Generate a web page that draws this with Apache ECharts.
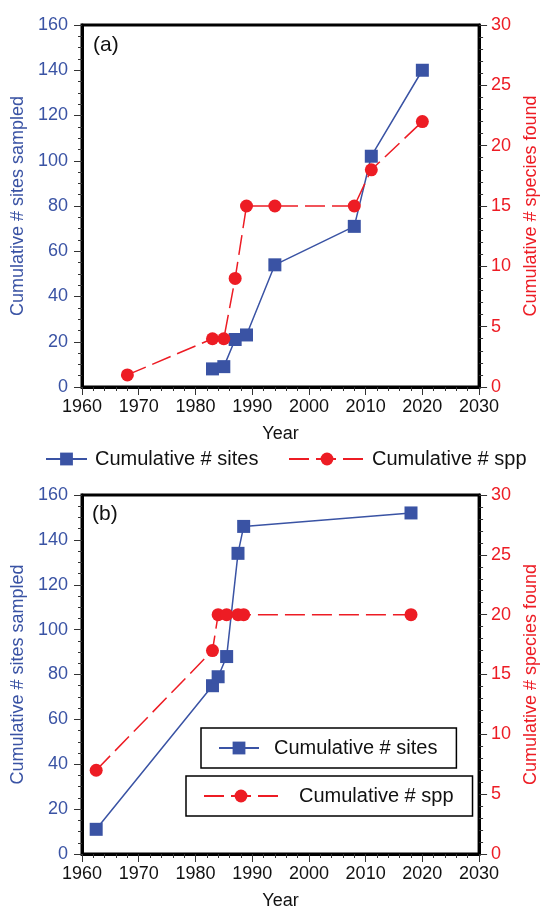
<!DOCTYPE html>
<html>
<head>
<meta charset="utf-8">
<script src="https://cdn.jsdelivr.net/npm/echarts@6/dist/echarts.min.js"></script>
<style>
html,body{margin:0;padding:0;background:#fff;}
#chart{width:548px;height:911px;}
</style>
</head>
<body>
<div id="chart"></div>
<script>
// Panel (a)
var sitesA = [[1983, 8], [1985, 9], [1987, 21], [1989, 23], [1994, 54], [2008, 71], [2011, 102], [2020, 140]];
var sppA = [[1968, 1], [1983, 4], [1985, 4], [1987, 9], [1989, 15], [1994, 15], [2008, 15], [2011, 18], [2020, 22]];
// Panel (b)
var sitesB = [[1962.5, 11], [1983, 75], [1984, 79], [1985.5, 88], [1987.5, 134], [1988.5, 146], [2018, 152]];
var sppB = [[1962.5, 7], [1983, 17], [1984, 20], [1985.5, 20], [1987.5, 20], [1988.5, 20], [2018, 20]];

var seriesNames = ['Cumulative # sites', 'Cumulative # spp'];
var panelLabels = ['(a)', '(b)'];
var xName = 'Year';
var leftName = 'Cumulative # sites sampled';
var rightName = 'Cumulative # species found';

var BLUE = '#3a53a4';
var RED = '#ed1c24';
var FONT = 'Liberation Sans';
var plain = function (v) { return String(v); };

function xAxisDef(gi) {
  return {
    type: 'value', gridIndex: gi, min: 1960, max: 2030, interval: 10,
    name: xName, nameLocation: 'middle', nameGap: 38,
    nameTextStyle: {color: '#111', fontSize: 18, fontFamily: FONT},
    axisLine: {show: true, onZero: false, lineStyle: {color: '#000', width: 3}},
    axisTick: {show: true, inside: false, length: 8, lineStyle: {color: '#333', width: 1}},
    minorTick: {show: true, splitNumber: 5, length: 4, lineStyle: {color: '#333', width: 1}},
    axisLabel: {color: '#111', fontSize: 18, fontFamily: FONT, margin: 11, formatter: plain},
    splitLine: {show: false}
  };
}
function leftAxisDef(gi) {
  return {
    type: 'value', gridIndex: gi, position: 'left', min: 0, max: 160, interval: 20,
    name: leftName, nameLocation: 'middle', nameGap: 53,
    nameTextStyle: {color: BLUE, fontSize: 18, fontFamily: FONT},
    axisLine: {show: true, onZero: false, lineStyle: {color: '#000', width: 3}},
    axisTick: {show: true, inside: false, length: 8, lineStyle: {color: '#333', width: 1}},
    minorTick: {show: true, splitNumber: 4, length: 4, lineStyle: {color: '#333', width: 1}},
    axisLabel: {color: BLUE, fontSize: 18, fontFamily: FONT, margin: 14, formatter: plain},
    splitLine: {show: false}
  };
}
function rightAxisDef(gi) {
  return {
    type: 'value', gridIndex: gi, position: 'right', min: 0, max: 30, interval: 5,
    name: rightName, nameLocation: 'middle', nameGap: 40, nameRotate: 90,
    nameTextStyle: {color: RED, fontSize: 18, fontFamily: FONT},
    axisLine: {show: true, onZero: false, lineStyle: {color: '#000', width: 3}},
    axisTick: {show: true, inside: false, length: 8, lineStyle: {color: '#333', width: 1}},
    minorTick: {show: true, splitNumber: 5, length: 4, lineStyle: {color: '#333', width: 1}},
    axisLabel: {color: RED, fontSize: 18, fontFamily: FONT, margin: 12, formatter: plain},
    splitLine: {show: false}
  };
}
function sitesSeries(xi, yi, data) {
  return {
    name: seriesNames[0], type: 'line', xAxisIndex: xi, yAxisIndex: yi, data: data,
    symbol: 'rect', symbolSize: 13, showSymbol: true,
    lineStyle: {color: BLUE, width: 1.5}, itemStyle: {color: BLUE},
    z: 2, animation: false
  };
}
function sppSeries(xi, yi, data) {
  return {
    name: seriesNames[1], type: 'line', xAxisIndex: xi, yAxisIndex: yi, data: data,
    symbol: 'circle', symbolSize: 13, showSymbol: true,
    lineStyle: {color: RED, width: 1.5, type: [20, 7]}, itemStyle: {color: RED},
    z: 3, animation: false
  };
}
var legendText = {fontSize: 20, fontFamily: FONT, color: '#111'};

var chart = echarts.init(document.getElementById('chart'), null, {renderer: 'canvas'});
chart.setOption({
  backgroundColor: '#fff',
  animation: false,
  grid: [
    {left: 82, top: 25, width: 408, height: 362, show: true, borderColor: '#000', borderWidth: 3, backgroundColor: 'transparent'},
    {left: 82, top: 495, width: 408, height: 362, show: true, borderColor: '#000', borderWidth: 3, backgroundColor: 'transparent'}
  ],
  xAxis: [xAxisDef(0), xAxisDef(1)],
  yAxis: [leftAxisDef(0), rightAxisDef(0), leftAxisDef(1), rightAxisDef(1)],
  legend: [
    {data: [seriesNames[0]], left: 45, top: 449, padding: 0, itemWidth: 41, itemHeight: 16,
     textStyle: Object.assign({padding: [0, 0, 0, 3]}, legendText)},
    {data: [seriesNames[1]], left: 288, top: 449, padding: 0, itemWidth: 76, itemHeight: 16,
     textStyle: Object.assign({padding: [0, 0, 0, 2]}, legendText)},
    {data: [seriesNames[0]], left: 201, top: 728, itemWidth: 40, itemHeight: 16,
     padding: [10, 19, 10, 17], borderColor: '#000', borderWidth: 1.5,
     textStyle: Object.assign({padding: [0, 0, 0, 10]}, legendText)},
    {data: [seriesNames[1]], left: 186, top: 776, itemWidth: 74, itemHeight: 16,
     padding: [10, 19, 10, 17], borderColor: '#000', borderWidth: 1.5,
     textStyle: Object.assign({padding: [0, 0, 0, 16]}, legendText)}
  ],
  series: [
    sitesSeries(0, 0, sitesA), sppSeries(0, 1, sppA),
    sitesSeries(1, 2, sitesB), sppSeries(1, 3, sppB)
  ],
  graphic: [
    {type: 'text', left: 93, top: 35, style: {text: panelLabels[0], fontSize: 21, fontFamily: FONT, fill: '#111'}},
    {type: 'text', left: 92, top: 504, style: {text: panelLabels[1], fontSize: 21, fontFamily: FONT, fill: '#111'}}
  ]
});
</script>
</body>
</html>
